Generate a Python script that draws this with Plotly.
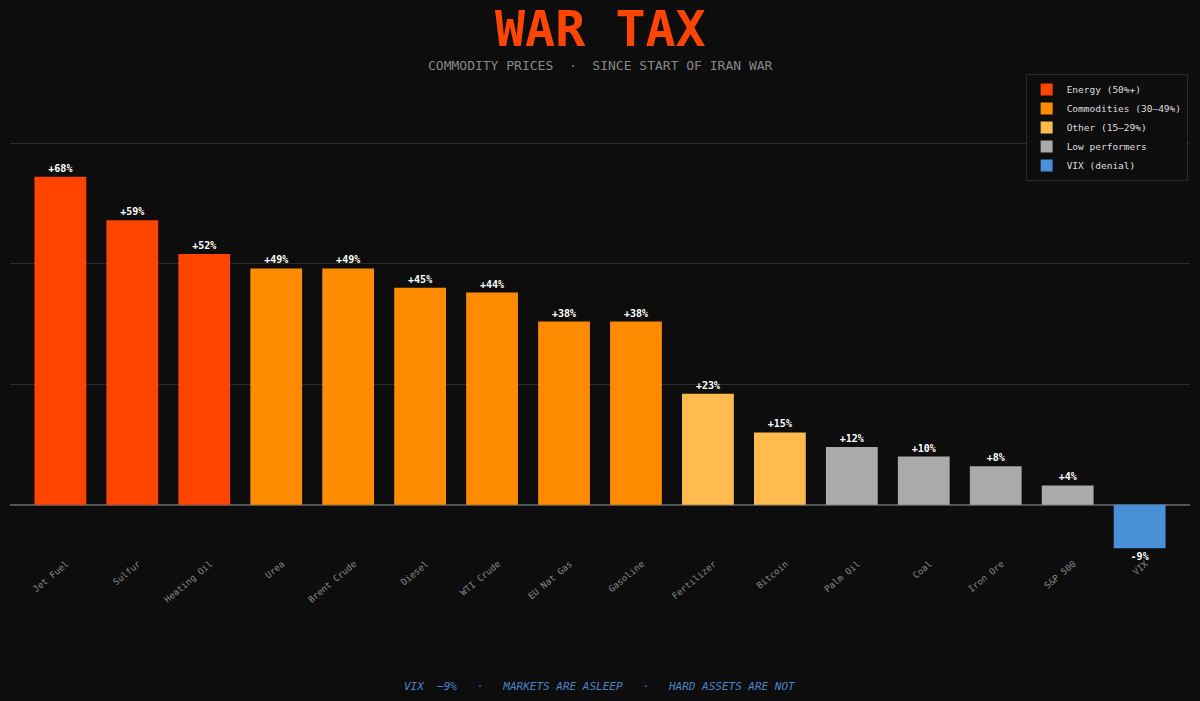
import plotly.graph_objects as go

categories = ["Jet Fuel", "Sulfur", "Heating Oil", "Urea", "Brent Crude", "Diesel",
              "WTI Crude", "EU Nat Gas", "Gasoline", "Fertilizer", "Bitcoin",
              "Palm Oil", "Coal", "Iron Ore", "S&P 500", "VIX"]
changes = [68, 59, 52, 49, 49, 45, 44, 38, 38, 23, 15, 12, 10, 8, 4, -9]
groups = ["Energy (50%+)"] * 3 + ["Commodities (30\u201349%)"] * 6 + \
         ["Other (15\u201329%)"] * 2 + ["Low performers"] * 4 + ["VIX (denial)"]

group_order = ["Energy (50%+)", "Commodities (30\u201349%)", "Other (15\u201329%)",
               "Low performers", "VIX (denial)"]
group_colors = {
    "Energy (50%+)": "#FF4500",
    "Commodities (30\u201349%)": "#FF8C00",
    "Other (15\u201329%)": "#FFBB4D",
    "Low performers": "#AAAAAA",
    "VIX (denial)": "#4A90D9",
}

MONO = "DejaVu Sans Mono"
BG = "#0d0d0d"

fig = go.Figure()
for g in group_order:
    xs = [c for c, gg in zip(categories, groups) if gg == g]
    ys = [v for v, gg in zip(changes, groups) if gg == g]
    fig.add_trace(go.Bar(
        x=xs, y=ys, name=g,
        marker=dict(color=group_colors[g], line_width=0),
        width=0.72,
        text=[f"<b>{v:+d}%</b>" for v in ys],
        textposition="outside",
        textfont=dict(family=MONO, size=10, color="#ffffff"),
        cliponaxis=False,
    ))

# pixel helpers for text placement (plot area 119..553 px tall)
top, h = 119, 434
py = lambda p: 1 + (top - p) / h

fig.update_layout(
    width=1200, height=701,
    paper_bgcolor=BG, plot_bgcolor=BG,
    margin=dict(l=10, r=10, t=top, b=701 - top - h),
    barmode="relative",
    showlegend=True,
    legend=dict(
        x=0.998, y=py(74), xanchor="right", yanchor="top",
        bgcolor=BG, bordercolor="#2a2a2a", borderwidth=1,
        font=dict(family=MONO, size=9.5, color="#dddddd"),
        tracegroupgap=0, itemwidth=30,
    ),
    xaxis=dict(
        categoryorder="array", categoryarray=categories,
        range=[-0.7, 15.7], tickangle=-40,
        ticklabelshift=6, ticklabelstandoff=3,
        tickfont=dict(family=MONO, size=9, color="#888888"),
        showgrid=False, showline=False, ticks="",
    ),
    yaxis=dict(
        range=[-10, 80], tickvals=[25, 50, 75], showticklabels=False,
        gridcolor="#2a2a2a", gridwidth=1,
        zeroline=True, zerolinecolor="#555555", zerolinewidth=1.5,
    ),
    annotations=[
        dict(text="<b>WAR TAX</b>", x=0.5, y=py(29), xref="paper", yref="paper",
             showarrow=False, yanchor="middle",
             font=dict(family=MONO, size=50, color="#FF4500")),
        dict(text="COMMODITY PRICES  \u00b7  SINCE START OF IRAN WAR", x=0.5, y=py(65),
             xref="paper", yref="paper", showarrow=False, yanchor="middle",
             font=dict(family=MONO, size=13, color="#888888")),
        dict(text="<i>VIX  \u22129%   \u00b7   MARKETS ARE ASLEEP   \u00b7   HARD ASSETS ARE NOT</i>",
             x=0.5, y=py(686), xref="paper", yref="paper", showarrow=False,
             yanchor="middle", font=dict(family=MONO, size=11, color="#4F82C4")),
    ],
)

fig.write_html(
    "out.html",
    config={"displayModeBar": False},
    post_script="document.body.style.margin='0';document.body.style.background='#0d0d0d';",
)
